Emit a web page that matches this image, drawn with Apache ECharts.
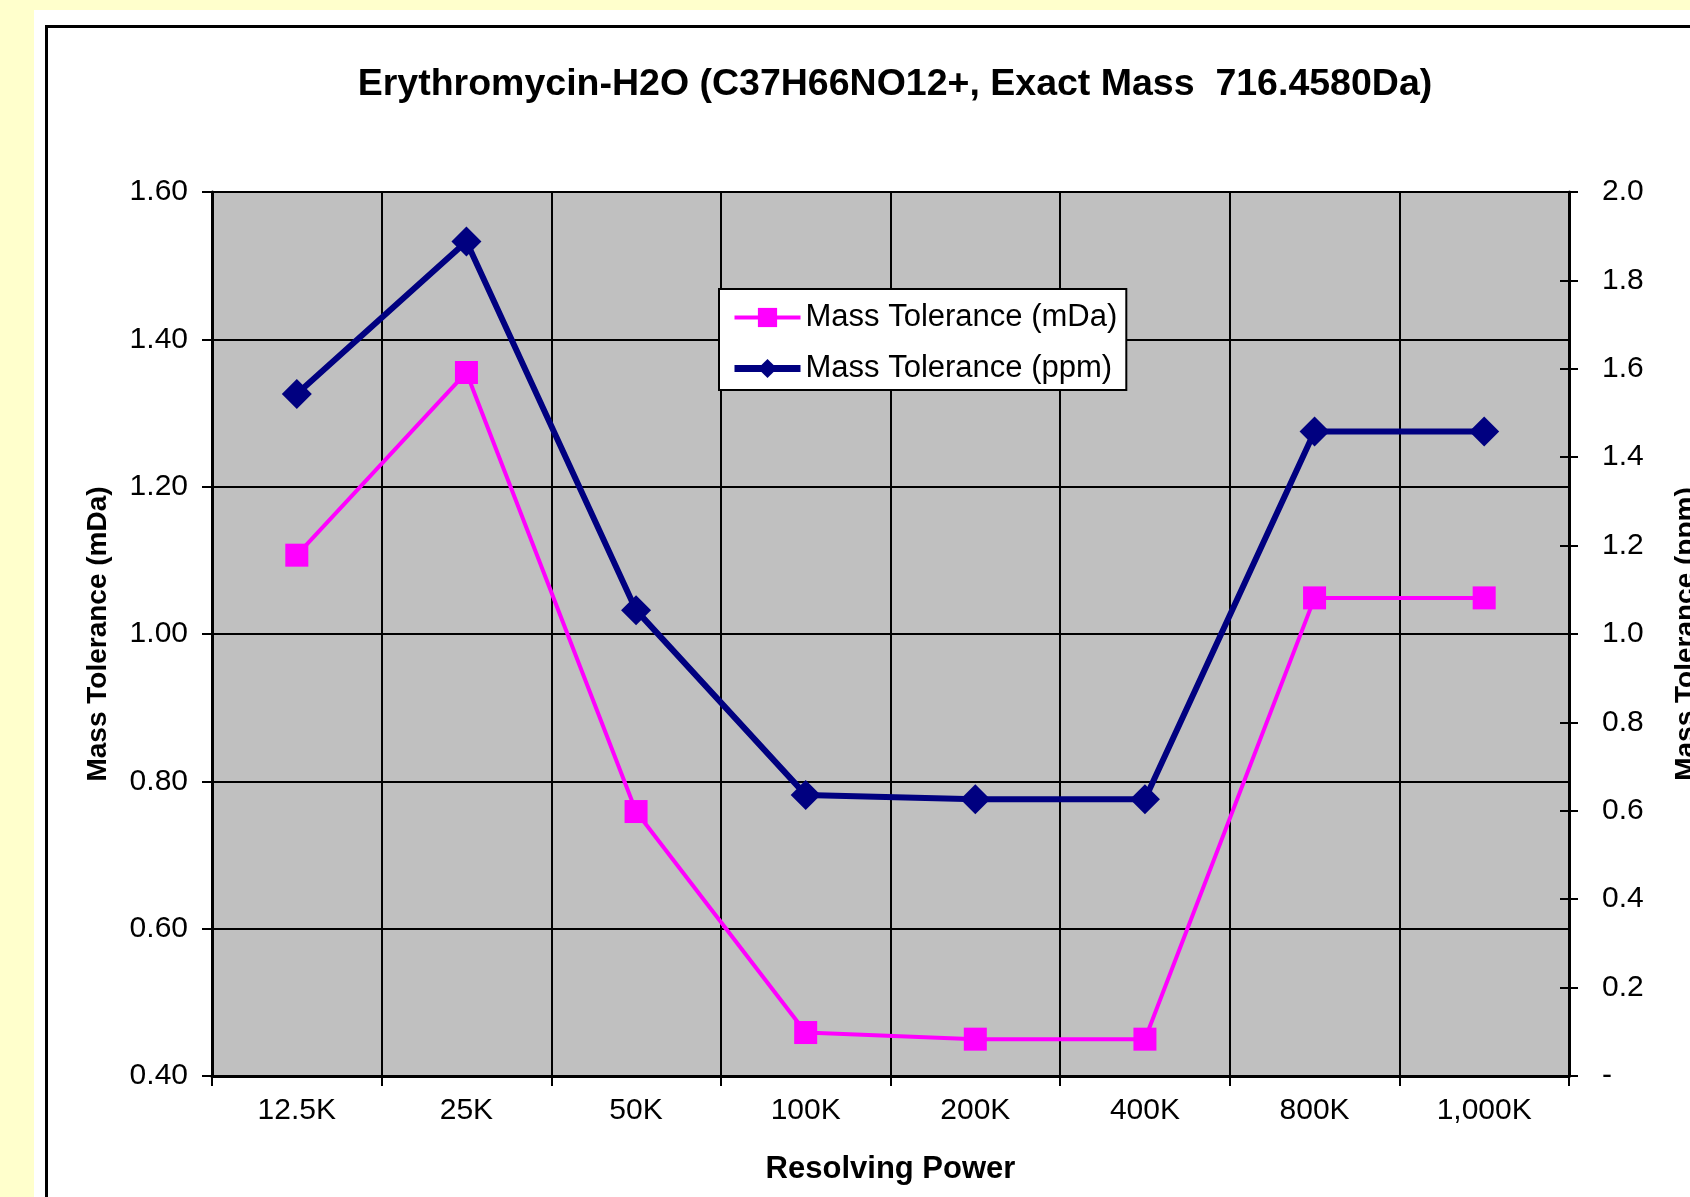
<!DOCTYPE html>
<html>
<head>
<meta charset="utf-8">
<script src="https://cdn.jsdelivr.net/npm/echarts@6/dist/echarts.min.js"></script>
<style>
  html, body { margin: 0; padding: 0; background: #FFFFCC; overflow: hidden; }
  #sheet { position: absolute; left: 34px; top: 10px; width: 1700px; height: 1250px; background: #fff; }
  #frame { position: absolute; left: 45px; top: 25px; width: 1700px; height: 1250px; border: 3px solid #000; box-sizing: border-box; }
  #chart { position: absolute; left: 0; top: 0; width: 1690px; height: 1197px; }
</style>
</head>
<body>
<div id="sheet"></div>
<div id="frame"></div>
<div id="chart"></div>
<script>
// Resolving power settings on the category axis
const categories = ['12.5K', '25K', '50K', '100K', '200K', '400K', '800K', '1,000K'];
// Mass tolerance in millidaltons (left axis)
const toleranceMDa = [1.107, 1.355, 0.759, 0.459, 0.450, 0.450, 1.049, 1.049];
// Mass tolerance in ppm (right axis)
const tolerancePPM = [1.543, 1.888, 1.054, 0.636, 0.626, 0.626, 1.458, 1.458];

const FONT = "'Liberation Sans', Arial, sans-serif";

const chart = echarts.init(document.getElementById('chart'), null, { renderer: 'canvas' });

chart.setOption({
  backgroundColor: 'transparent',
  animation: false,
  title: {
    text: 'Erythromycin-H2O (C37H66NO12+, Exact Mass  716.4580Da)',
    left: 890,
    top: 61,
    textAlign: 'center',
    textStyle: { fontFamily: FONT, fontSize: 37.5, fontWeight: 'bold', color: '#000' }
  },
  legend: {
    left: 719,
    top: 289,
    orient: 'vertical',
    backgroundColor: '#fff',
    borderColor: '#000',
    borderWidth: 2,
    borderRadius: 0,
    padding: [13, 9, 6, 12],
    itemWidth: 66,
    itemHeight: 24,
    itemGap: 20,
    textStyle: { fontFamily: FONT, fontSize: 31, color: '#000', lineHeight: 30 },
    data: [
      { name: 'Mass Tolerance (mDa)', lineStyle: { width: 4 } },
      { name: 'Mass Tolerance (ppm)', lineStyle: { width: 7 } }
    ]
  },
  grid: {
    left: 212, right: 121, top: 192, bottom: 121,
    outerBoundsMode: 'none',
    containLabel: false,
    show: true,
    backgroundColor: '#C0C0C0',
    borderColor: '#808080',
    borderWidth: 2
  },
  xAxis: {
    type: 'category',
    data: categories,
    boundaryGap: true,
    name: 'Resolving Power',
    nameLocation: 'middle',
    nameGap: 78,
    nameTextStyle: { fontFamily: FONT, fontSize: 31, fontWeight: 'bold', color: '#000' },
    axisLine: { lineStyle: { color: '#000', width: 3 } },
    axisTick: { show: true, length: 10, lineStyle: { color: '#000', width: 2 } },
    axisLabel: { margin: 20, fontFamily: FONT, fontSize: 30, color: '#000' },
    splitLine: { show: true, lineStyle: { color: '#000', width: 2 } }
  },
  yAxis: [
    {
      type: 'value',
      position: 'left',
      min: 0.4, max: 1.6, interval: 0.2,
      name: 'Mass Tolerance (mDa)',
      nameLocation: 'middle',
      nameGap: 100,
      nameRotate: 90,
      nameTextStyle: { fontFamily: FONT, fontSize: 28, fontWeight: 'bold', color: '#000' },
      axisLine: { show: true, lineStyle: { color: '#000', width: 3 } },
      axisTick: { show: true, length: 10, lineStyle: { color: '#000', width: 2 } },
      axisLabel: { margin: 24, fontFamily: FONT, fontSize: 30, color: '#000',
        formatter: v => v.toFixed(2) },
      splitLine: { show: true, lineStyle: { color: '#000', width: 2 } }
    },
    {
      type: 'value',
      position: 'right',
      min: 0, max: 2, interval: 0.2,
      name: 'Mass Tolerance (ppm)',
      nameLocation: 'middle',
      nameGap: 103,
      nameRotate: 90,
      nameTextStyle: { fontFamily: FONT, fontSize: 28, fontWeight: 'bold', color: '#000' },
      axisLine: { show: true, lineStyle: { color: '#000', width: 3 } },
      axisTick: { show: true, length: 9, lineStyle: { color: '#000', width: 2 } },
      axisLabel: { margin: 33, fontFamily: FONT, fontSize: 30, color: '#000',
        formatter: v => (Math.abs(v) < 1e-9 ? '-' : v.toFixed(1)) },
      splitLine: { show: false }
    },
    {
      // inner half of the crossing ticks on the right axis
      type: 'value',
      position: 'right',
      min: 0, max: 2, interval: 0.2,
      axisLine: { show: false },
      axisTick: { show: true, inside: true, length: 9, lineStyle: { color: '#000', width: 2 } },
      axisLabel: { show: false },
      splitLine: { show: false }
    }
  ],
  series: [
    {
      name: 'Mass Tolerance (mDa)',
      type: 'line',
      yAxisIndex: 0,
      data: toleranceMDa,
      symbol: 'rect',
      symbolSize: 23,
      lineStyle: { color: '#FF00FF', width: 4 },
      itemStyle: { color: '#FF00FF' },
      z: 3
    },
    {
      name: 'Mass Tolerance (ppm)',
      type: 'line',
      yAxisIndex: 1,
      data: tolerancePPM,
      symbol: 'diamond',
      symbolSize: 30,
      lineStyle: { color: '#000080', width: 6 },
      itemStyle: { color: '#000080' },
      z: 4
    }
  ]
});
</script>
</body>
</html>
